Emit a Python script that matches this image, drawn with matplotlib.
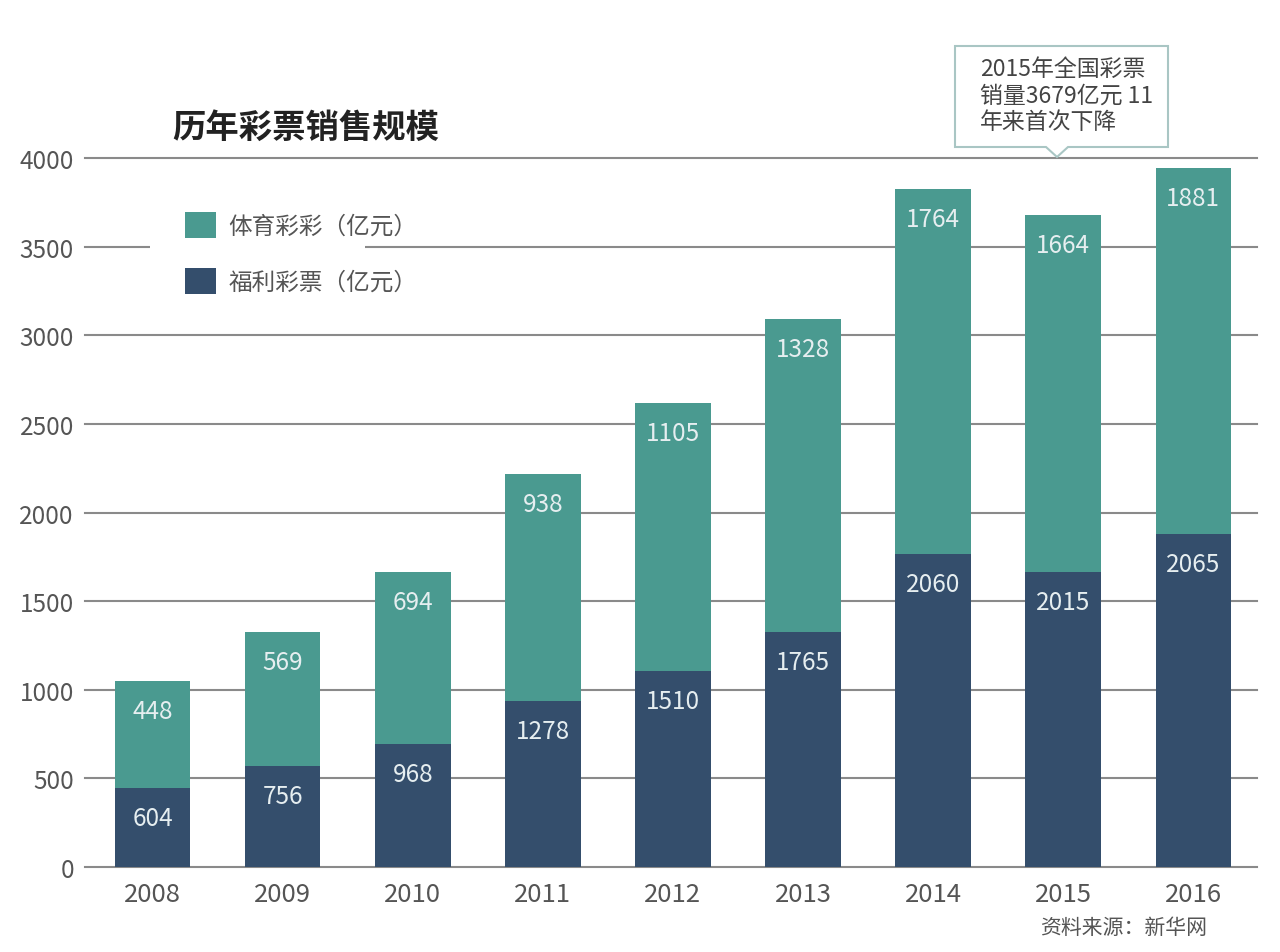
import matplotlib.pyplot as plt
import numpy as np
from matplotlib.patches import Polygon, Rectangle

plt.rcParams['font.family'] = ['Noto Sans CJK SC', 'DejaVu Sans']

years = ["2008", "2009", "2010", "2011", "2012", "2013", "2014", "2015", "2016"]
welfare = [604, 756, 968, 1278, 1510, 1765, 2060, 2015, 2065]
sports = [448, 569, 694, 938, 1105, 1328, 1764, 1664, 1881]
yticks = [0, 500, 1000, 1500, 2000, 2500, 3000, 3500, 4000]

teal = "#4a9a90"
navy = "#344e6c"
W, H = 1280, 953

fig = plt.figure(figsize=(12.8, 9.53), dpi=100)
ax = fig.add_axes([85 / W, (H - 868) / H, (1257 - 85) / W, (868 - 159) / H])

x = np.arange(len(years))
# the source graphic draws the lower (navy) segment with the sports height
# and the upper (teal) one with the welfare height, labels stay as printed
b1 = ax.bar(x, sports, width=0.58, color=navy, zorder=2, label="福利彩票（亿元）")
b2 = ax.bar(x, welfare, width=0.58, bottom=sports, color=teal, zorder=2,
            label="体育彩彩（亿元）")

for xi, w, s in zip(x, welfare, sports):
    ax.annotate(str(w), (xi, s), xytext=(0, -30), textcoords="offset pixels",
                ha="center", va="center", color="#e6eef0", fontsize=17.5, zorder=3)
    ax.annotate(str(s), (xi, w + s), xytext=(0, -30), textcoords="offset pixels",
                ha="center", va="center", color="#e6eef0", fontsize=17.5, zorder=3)

ax.set_xlim(-0.52, 8.49)
ax.set_ylim(0, 4000)
ax.set_yticks(yticks)
ax.set_xticks(x)
ax.set_xticklabels(years)
ax.tick_params(axis="both", length=0, colors="#555555")
ax.tick_params(axis="y", labelsize=17.5, pad=8)
ax.tick_params(axis="x", labelsize=18.5, pad=10)
for s in ax.spines.values():
    s.set_visible(False)
ax.yaxis.grid(True, color="#8a8a8a", linewidth=1.5)
ax.set_axisbelow(True)
for gl in ax.get_ygridlines():
    gl.set_clip_on(False)

# white gap in the 3500 line behind the legend
ax.add_patch(Rectangle((150 / W, (H - 262) / H), 215 / W, 30 / H,
                       transform=fig.transFigure, facecolor="white",
                       edgecolor="none", zorder=1))

leg = ax.legend(handles=[b2, b1], loc="upper left",
                bbox_to_anchor=(166 / W, (H - 194) / H),
                bbox_transform=fig.transFigure, fontsize=17,
                frameon=False, handlelength=1.3, handleheight=1.3,
                labelspacing=1.3, handletextpad=0.55, borderpad=0.3)
for t in leg.get_texts():
    t.set_color("#555555")

fig.text(172 / W, (H - 128) / H, "历年彩票销售规模", fontsize=24, fontweight="bold",
         color="#222222", va="center", ha="left")

# callout box
pts = [(955, 47), (1168, 47), (1168, 148), (1068, 148), (1057, 158),
       (1046, 148), (955, 148)]
poly = Polygon([(px / W, (H - py) / H) for px, py in pts], closed=True,
               transform=fig.transFigure, facecolor="white",
               edgecolor="#a9c6c4", linewidth=1.5, zorder=5)
fig.patches.append(poly)
fig.text(980 / W, (H - 96) / H, "2015年全国彩票\n销量3679亿元 11\n年来首次下降",
         fontsize=16.5, color="#444444", va="center", ha="left", linespacing=1.22,
         zorder=6)

fig.text(1040 / W, (H - 928) / H, "资料来源：新华网", fontsize=15, color="#555555",
         va="center", ha="left")

fig.savefig("out.png", dpi=100, facecolor="white")
